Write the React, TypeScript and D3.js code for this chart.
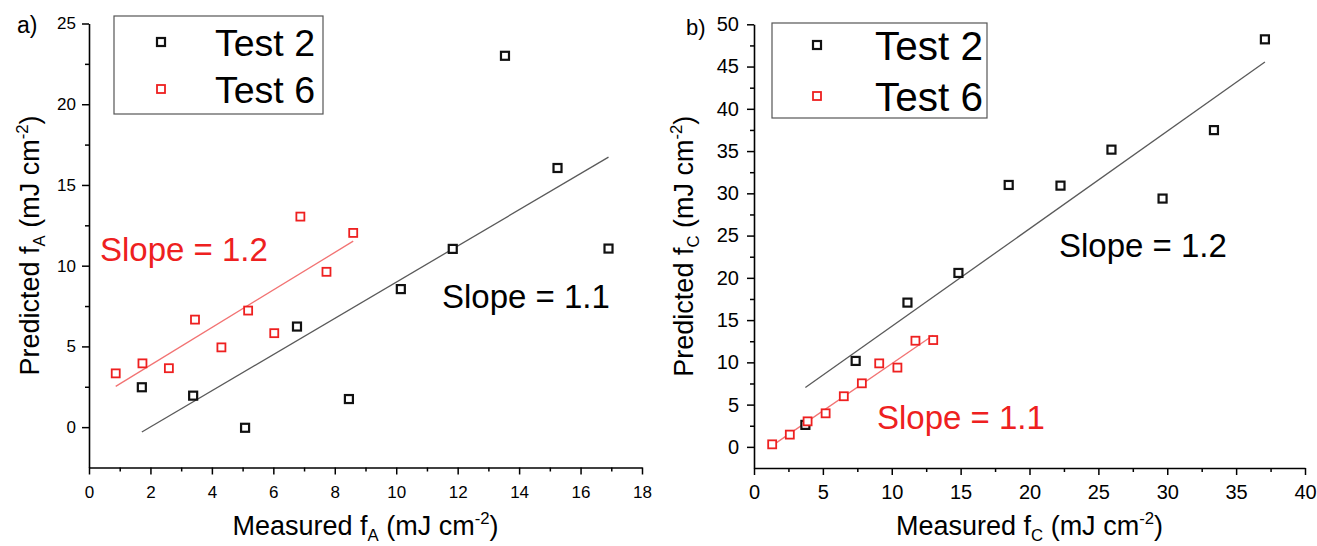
import React, { useEffect, useRef } from 'react';
import * as d3 from 'd3';

// panel a) - f_A
const test2A_x = [1.72, 3.39, 5.08, 6.77, 8.46, 10.15, 11.84, 13.54, 15.25, 16.91];
const test2A_y = [2.47, 1.95, -0.04, 6.23, 1.74, 8.55, 11.04, 23.0, 16.05, 11.06];
const test6A_x = [0.87, 1.74, 2.6, 3.45, 4.31, 5.18, 6.03, 6.88, 7.73, 8.6];
const test6A_y = [3.33, 3.95, 3.65, 6.66, 4.94, 7.22, 5.82, 13.04, 9.62, 12.03];

// panel b) - f_C
const test2C_x = [3.73, 7.38, 11.14, 14.84, 18.49, 22.25, 25.95, 29.66, 33.39, 37.09];
const test2C_y = [2.6, 10.17, 17.07, 20.58, 30.99, 30.91, 35.17, 29.38, 37.48, 48.22];
const test6C_x = [1.32, 2.6, 3.89, 5.2, 6.52, 7.83, 9.09, 10.41, 11.72, 13.01];
const test6C_y = [0.3, 1.45, 3.02, 3.97, 5.99, 7.52, 9.88, 9.38, 12.56, 12.64];

const seriesNames = ['Test 2', 'Test 6'];
const xTicksA = [0, 2, 4, 6, 8, 10, 12, 14, 16, 18];
const xMinorA = [1, 3, 5, 7, 9, 11, 13, 15, 17];
const yTicksA = [0, 5, 10, 15, 20, 25];
const yMinorA = [2.5, 7.5, 12.5, 17.5, 22.5];
const xTicksC = [0, 5, 10, 15, 20, 25, 30, 35, 40];
const xMinorC = [2.5, 7.5, 12.5, 17.5, 22.5, 27.5, 32.5, 37.5];
const yTicksC = [0, 5, 10, 15, 20, 25, 30, 35, 40, 45, 50];
const yMinorC = [2.5, 7.5, 12.5, 17.5, 22.5, 27.5, 32.5, 37.5, 42.5, 47.5];
const slopeLabelsA = ['Slope = 1.1', 'Slope = 1.2'];
const slopeLabelsC = ['Slope = 1.2', 'Slope = 1.1'];

const FONT = "'Liberation Sans', Arial, Helvetica, sans-serif";
const BLACK = '#111';
const RED = '#ee2020';

// least squares fit, returns [slope, intercept]
function fit(xs, ys) {
  const mx = d3.mean(xs), my = d3.mean(ys);
  let sxy = 0, sxx = 0;
  xs.forEach((v, i) => {
    sxy += (v - mx) * (ys[i] - my);
    sxx += (v - mx) * (v - mx);
  });
  const m = sxy / sxx;
  return [m, my - m * mx];
}

function subSupText(sel, x, y, pre, sub, mid, sup, post, size, rotate) {
  const t = sel
    .append('text')
    .attr('transform', `translate(${x},${y})` + (rotate ? ' rotate(-90)' : ''))
    .attr('text-anchor', 'middle')
    .style('font-family', FONT)
    .style('font-size', size)
    .attr('fill', '#000');
  t.append('tspan').text(pre);
  t.append('tspan').attr('dy', 6).style('font-size', size * 0.62).text(sub);
  t.append('tspan').attr('dy', -6).text(mid);
  t.append('tspan').attr('dy', -11).style('font-size', size * 0.62).text(sup);
  t.append('tspan').attr('dy', 11).text(post);
}

function drawPanel(svg, cfg) {
  const x = d3.scaleLinear().domain(cfg.xDomain).range(cfg.xRange);
  const y = d3.scaleLinear().domain(cfg.yDomain).range(cfg.yRange);
  const g = svg.append('g');

  const styleAxis = (a, fs) => {
    a.selectAll('path').attr('stroke', '#000').attr('stroke-width', 1.6);
    a.selectAll('line').attr('stroke', '#000').attr('stroke-width', 1.5);
    a.selectAll('text').style('font-family', FONT).style('font-size', fs).attr('fill', '#000');
  };

  // minor ticks
  g.append('g')
    .attr('transform', `translate(0,${cfg.yRange[0]})`)
    .call(d3.axisBottom(x).tickValues(cfg.xMinor).tickSize(4).tickSizeOuter(0).tickFormat(() => ''))
    .call((a) => { a.select('.domain').remove(); styleAxis(a, cfg.tickFont); });
  g.append('g')
    .attr('transform', `translate(${cfg.xRange[0]},0)`)
    .call(d3.axisLeft(y).tickValues(cfg.yMinor).tickSize(4).tickSizeOuter(0).tickFormat(() => ''))
    .call((a) => { a.select('.domain').remove(); styleAxis(a, cfg.tickFont); });

  // major axes
  g.append('g')
    .attr('transform', `translate(0,${cfg.yRange[0]})`)
    .call(d3.axisBottom(x).tickValues(cfg.xTicks).tickSize(7).tickPadding(cfg.xPad).tickSizeOuter(0).tickFormat(d3.format('d')))
    .call((a) => styleAxis(a, cfg.tickFont));
  g.append('g')
    .attr('transform', `translate(${cfg.xRange[0]},0)`)
    .call(d3.axisLeft(y).tickValues(cfg.yTicks).tickSize(7).tickPadding(cfg.yPad).tickSizeOuter(0).tickFormat(d3.format('d')))
    .call((a) => styleAxis(a, cfg.tickFont));

  // fit lines
  const series = [
    { xs: cfg.s2x, ys: cfg.s2y, color: BLACK, line: '#5a5a5a', sw: 2.2 },
    { xs: cfg.s6x, ys: cfg.s6y, color: RED, line: '#f27373', sw: 1.8 },
  ];
  series.forEach((s) => {
    const [m, b] = fit(s.xs, s.ys);
    const x0 = d3.min(s.xs), x1 = d3.max(s.xs);
    g.append('line')
      .attr('x1', x(x0)).attr('y1', y(m * x0 + b))
      .attr('x2', x(x1)).attr('y2', y(m * x1 + b))
      .attr('stroke', s.line)
      .attr('stroke-width', 1.3);
  });

  // markers
  series.forEach((s) => {
    g.append('g')
      .selectAll('rect')
      .data(s.xs.map((v, i) => [v, s.ys[i]]))
      .enter()
      .append('rect')
      .attr('x', (d) => x(d[0]) - 4)
      .attr('y', (d) => y(d[1]) - 4)
      .attr('width', 8)
      .attr('height', 8)
      .attr('fill', '#fff')
      .attr('stroke', s.color)
      .attr('stroke-width', s.sw);
  });

  // legend
  const L = cfg.legend;
  g.append('rect')
    .attr('x', L.x).attr('y', L.y).attr('width', L.w).attr('height', L.h)
    .attr('fill', '#fff').attr('stroke', '#555').attr('stroke-width', 1.2);
  seriesNames.forEach((name, i) => {
    const cy = L.rows[i];
    g.append('rect')
      .attr('x', L.mx - 4).attr('y', cy - 4).attr('width', 8).attr('height', 8)
      .attr('fill', '#fff').attr('stroke', series[i].color).attr('stroke-width', series[i].sw);
    g.append('text')
      .attr('x', L.tx).attr('y', cy + L.font * 0.36)
      .style('font-family', FONT).style('font-size', L.font)
      .attr('fill', '#000')
      .text(name);
  });

  // slope annotations
  cfg.notes.forEach((n) => {
    g.append('text')
      .attr('x', n.x).attr('y', n.y)
      .style('font-family', FONT).style('font-size', 33)
      .attr('fill', n.color)
      .text(n.text);
  });

  // panel label
  g.append('text')
    .attr('x', cfg.tag.x).attr('y', cfg.tag.y)
    .style('font-family', FONT).style('font-size', cfg.tag.size)
    .text(cfg.tag.text);

  // axis titles
  const cx = (cfg.xRange[0] + cfg.xRange[1]) / 2;
  const cy = (cfg.yRange[0] + cfg.yRange[1]) / 2;
  subSupText(g, cx, 535, 'Measured f', cfg.sub, ' (mJ cm', '-2', ')', 27, false);
  subSupText(g, cfg.yTitleX, cy, 'Predicted f', cfg.sub, ' (mJ cm', '-2', ')', 27, true);
}

export default function App() {
  const ref = useRef(null);

  useEffect(() => {
    const svg = d3.select(ref.current);
    svg.selectAll('*').remove();

    drawPanel(svg, {
      xDomain: [0, 18], xRange: [89, 642],
      yDomain: [-2.5, 25], yRange: [467.5, 23.5],
      xTicks: xTicksA, xMinor: xMinorA, yTicks: yTicksA, yMinor: yMinorA,
      tickFont: 17, xPad: 11, yPad: 6,
      s2x: test2A_x, s2y: test2A_y, s6x: test6A_x, s6y: test6A_y,
      legend: { x: 114, y: 16, w: 209, h: 98, mx: 161, tx: 215, rows: [42, 89], font: 37.5 },
      notes: [
        { text: slopeLabelsA[1], x: 100, y: 261, color: RED },
        { text: slopeLabelsA[0], x: 442, y: 308, color: '#000' },
      ],
      tag: { text: 'a)', x: 17, y: 33, size: 23 },
      sub: 'A', yTitleX: 39,
    });

    drawPanel(svg, {
      xDomain: [0, 40], xRange: [754, 1305],
      yDomain: [-2.5, 50], yRange: [468, 24.3],
      xTicks: xTicksC, xMinor: xMinorC, yTicks: yTicksC, yMinor: yMinorC,
      tickFont: 20, xPad: 10, yPad: 8,
      s2x: test2C_x, s2y: test2C_y, s6x: test6C_x, s6y: test6C_y,
      legend: { x: 772, y: 23, w: 215, h: 95, mx: 817, tx: 875, rows: [45, 96], font: 40.5 },
      notes: [
        { text: slopeLabelsC[0], x: 1059, y: 257, color: '#000' },
        { text: slopeLabelsC[1], x: 877, y: 429, color: RED },
      ],
      tag: { text: 'b)', x: 686, y: 35, size: 22 },
      sub: 'C', yTitleX: 693,
    });
  }, []);

  return (
    <svg
      ref={ref}
      width={1317}
      height={546}
      style={{ position: 'absolute', left: 0, top: 0, background: '#fff' }}
    />
  );
}
